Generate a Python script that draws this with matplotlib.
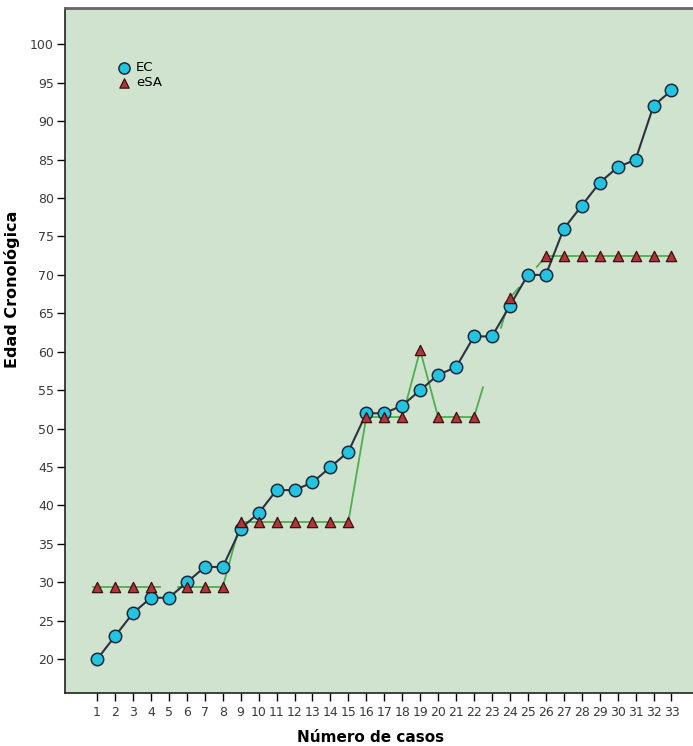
import numpy as np
import matplotlib.pyplot as plt

# Case numbers
casos = list(range(1, 34))

# Edad cronológica (EC)
ec = [20, 23, 26, 28, 28, 30, 32, 32, 37, 39, 42, 42, 43, 45, 47, 52, 52,
      53, 55, 57, 58, 62, 62, 66, 70, 70, 76, 79, 82, 84, 85, 92, 94]

# Edad estimada (eSA); None = sin dato
esa = [29.4, 29.4, 29.4, 29.4, None, 29.4, 29.4, 29.4, 37.9, 37.9, 37.9,
       37.9, 37.9, 37.9, 37.9, 51.5, 51.5, 51.5, 60.2, 51.5, 51.5, 51.5,
       None, 67.0, None, 72.4, 72.4, 72.4, 72.4, 72.4, 72.4, 72.4, 72.4]

y_ticks = list(range(20, 101, 5))

bg = "#cfe3cf"
green = "#4fae4f"

fig = plt.figure(figsize=(6.93, 7.46), dpi=100)
ax = fig.add_axes([0.094, 0.071, 0.906, 0.918])
ax.set_facecolor(bg)

# eSA line: full segments between neighbours, half segments towards gaps
pts = [(x, v) for x, v in zip(casos, esa) if v is not None]
for (x0, v0), (x1, v1) in zip(pts[:-1], pts[1:]):
    if x1 - x0 == 1:
        ax.plot([x0, x1], [v0, v1], color=green, lw=1.3, zorder=2)
    else:
        slope = (v1 - v0) / (x1 - x0)
        ax.plot([x0, x0 + 0.5], [v0, v0 + 0.5 * slope], color=green, lw=1.3, zorder=2)
        ax.plot([x1 - 0.5, x1], [v1 - 0.5 * slope, v1], color=green, lw=1.3, zorder=2)
# small stub before the first point
ax.plot([pts[0][0] - 0.25, pts[0][0]], [pts[0][1]] * 2, color=green, lw=1.3, zorder=2)

ax.plot(casos, ec, color="#2e3140", lw=1.5, zorder=3)
ax.scatter(casos, ec, s=80, color="#22c4e2", edgecolor="#1d2a3a", lw=1.1,
           zorder=4, label="EC")
ex = [x for x, v in pts]
ev = [v for x, v in pts]
ax.scatter(ex, ev, s=55, marker="^", color="#b3333b", edgecolor="#3a1010",
           lw=0.9, zorder=5, label="eSA")

ax.set_xlim(-0.78, 34.2)
ax.set_ylim(15.6, 104.7)
ax.set_xticks(casos)
ax.set_yticks(y_ticks)
ax.tick_params(axis="both", direction="out", length=6, width=1,
               labelsize=9, labelcolor="#3a3a3a", pad=2)
ax.tick_params(axis="x", pad=3)

for s in ["left", "bottom"]:
    ax.spines[s].set_color("#222222")
    ax.spines[s].set_linewidth(1.2)
ax.spines["top"].set_color("#666666")
ax.spines["top"].set_linewidth(2)
ax.spines["right"].set_visible(False)

ax.set_xlabel("Número de casos", fontsize=11, fontweight="bold")
ax.set_ylabel("Edad Cronológica", fontsize=11.5, fontweight="bold")
ax.xaxis.set_label_coords(0.486, -0.054)
ax.yaxis.set_label_coords(-0.072, 0.59)

leg = ax.legend(loc="upper left", bbox_to_anchor=(0.075, 0.93), frameon=False,
                fontsize=9.5, handletextpad=0.4, labelspacing=0.15,
                borderaxespad=0, handlelength=1.0, markerscale=0.9)

fig.savefig("out.png", dpi=100)
